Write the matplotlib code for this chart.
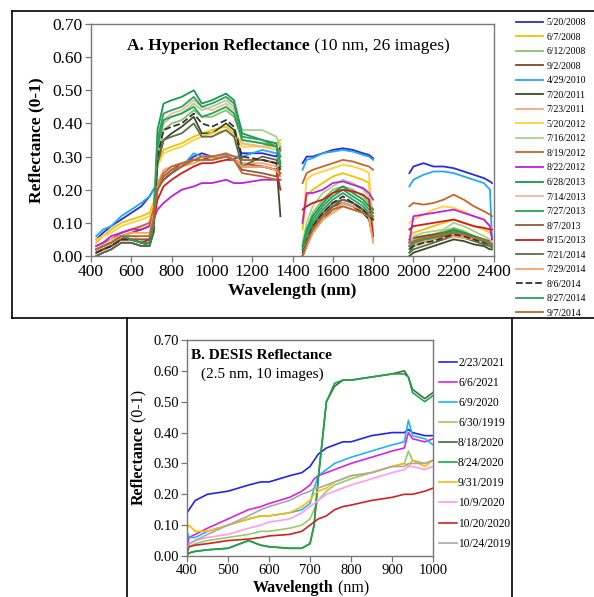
import matplotlib
matplotlib.use("Agg")
import matplotlib.pyplot as plt
from matplotlib.lines import Line2D

plt.rcParams['font.family'] = ['Liberation Serif', 'DejaVu Serif']

# ---------- A. Hyperion (3 spectral segments) ----------
hyp_dates = ['5/20/2008', '6/7/2008', '6/12/2008', '9/2/2008', '4/29/2010',
             '7/20/2011', '7/23/2011', '5/20/2012', '7/16/2012', '8/19/2012',
             '8/22/2012', '6/28/2013', '7/14/2013', '7/27/2013', '8/7/2013',
             '8/15/2013', '7/21/2014', '7/29/2014', '8/6/2014', '8/27/2014',
             '9/7/2014']

wl_vnir = [426, 460, 500, 550, 600, 650, 690, 710, 730, 760, 800, 850, 910,
           950, 1000, 1070, 1110, 1150, 1250, 1320, 1340]
wl_swir1 = [1450, 1470, 1500, 1550, 1600, 1650, 1700, 1750, 1780, 1800]
wl_swir2 = [1980, 2000, 2050, 2100, 2150, 2200, 2250, 2300, 2350, 2380, 2390]

refl_vnir = [
    [0.05, 0.07, 0.09, 0.11, 0.13, 0.15, 0.18, 0.20, 0.22, 0.23, 0.25, 0.27, 0.30, 0.31, 0.30, 0.30, 0.29, 0.31, 0.31, 0.30, 0.33],
    [0.04, 0.06, 0.08, 0.10, 0.11, 0.12, 0.13, 0.16, 0.28, 0.32, 0.33, 0.34, 0.36, 0.37, 0.38, 0.39, 0.37, 0.34, 0.33, 0.34, 0.35],
    [0.02, 0.03, 0.04, 0.06, 0.05, 0.04, 0.04, 0.08, 0.30, 0.38, 0.40, 0.41, 0.44, 0.42, 0.42, 0.44, 0.42, 0.35, 0.34, 0.33, 0.30],
    [0.02, 0.03, 0.04, 0.06, 0.07, 0.08, 0.09, 0.12, 0.20, 0.24, 0.26, 0.28, 0.29, 0.29, 0.30, 0.30, 0.29, 0.28, 0.27, 0.26, 0.25],
    [0.06, 0.08, 0.09, 0.12, 0.14, 0.16, 0.18, 0.20, 0.22, 0.24, 0.26, 0.27, 0.31, 0.30, 0.30, 0.305, 0.30, 0.30, 0.32, 0.31, 0.32],
    [0.00, 0.01, 0.02, 0.04, 0.04, 0.03, 0.03, 0.07, 0.28, 0.35, 0.37, 0.39, 0.42, 0.37, 0.37, 0.40, 0.38, 0.29, 0.29, 0.28, 0.12],
    [0.03, 0.04, 0.05, 0.07, 0.08, 0.09, 0.10, 0.13, 0.22, 0.26, 0.27, 0.28, 0.29, 0.30, 0.30, 0.30, 0.29, 0.28, 0.28, 0.27, 0.26],
    [0.05, 0.06, 0.07, 0.09, 0.10, 0.11, 0.12, 0.15, 0.27, 0.31, 0.32, 0.33, 0.35, 0.36, 0.37, 0.38, 0.36, 0.33, 0.33, 0.33, 0.34],
    [0.02, 0.03, 0.04, 0.06, 0.05, 0.05, 0.05, 0.09, 0.32, 0.40, 0.42, 0.43, 0.46, 0.44, 0.45, 0.47, 0.45, 0.38, 0.38, 0.36, 0.33],
    [0.03, 0.04, 0.05, 0.07, 0.08, 0.09, 0.10, 0.14, 0.21, 0.25, 0.27, 0.28, 0.29, 0.30, 0.30, 0.31, 0.30, 0.29, 0.29, 0.28, 0.32],
    [0.03, 0.04, 0.06, 0.07, 0.08, 0.08, 0.09, 0.11, 0.14, 0.16, 0.18, 0.20, 0.21, 0.22, 0.22, 0.23, 0.22, 0.22, 0.23, 0.23, 0.23],
    [0.02, 0.03, 0.04, 0.06, 0.05, 0.04, 0.04, 0.10, 0.38, 0.46, 0.47, 0.48, 0.50, 0.46, 0.47, 0.49, 0.47, 0.37, 0.35, 0.34, 0.28],
    [0.02, 0.03, 0.05, 0.06, 0.06, 0.05, 0.05, 0.09, 0.33, 0.41, 0.43, 0.44, 0.47, 0.45, 0.44, 0.46, 0.44, 0.34, 0.33, 0.32, 0.31],
    [0.01, 0.02, 0.03, 0.05, 0.05, 0.04, 0.03, 0.08, 0.33, 0.41, 0.42, 0.43, 0.45, 0.42, 0.43, 0.45, 0.43, 0.35, 0.34, 0.33, 0.30],
    [0.01, 0.02, 0.03, 0.05, 0.05, 0.05, 0.05, 0.10, 0.20, 0.23, 0.25, 0.27, 0.29, 0.29, 0.29, 0.30, 0.29, 0.26, 0.25, 0.24, 0.27],
    [0.01, 0.02, 0.03, 0.05, 0.05, 0.04, 0.05, 0.10, 0.17, 0.21, 0.23, 0.25, 0.27, 0.28, 0.28, 0.29, 0.29, 0.27, 0.27, 0.26, 0.20],
    [0.00, 0.01, 0.02, 0.04, 0.04, 0.03, 0.03, 0.07, 0.28, 0.35, 0.36, 0.37, 0.40, 0.36, 0.36, 0.38, 0.36, 0.27, 0.30, 0.29, 0.27],
    [0.02, 0.03, 0.04, 0.06, 0.07, 0.07, 0.07, 0.12, 0.21, 0.24, 0.26, 0.27, 0.28, 0.29, 0.29, 0.30, 0.29, 0.27, 0.27, 0.26, 0.24],
    [0.01, 0.02, 0.03, 0.05, 0.05, 0.04, 0.04, 0.08, 0.30, 0.38, 0.39, 0.40, 0.43, 0.40, 0.39, 0.41, 0.39, 0.30, 0.29, 0.28, 0.26],
    [0.02, 0.03, 0.04, 0.06, 0.05, 0.04, 0.04, 0.09, 0.35, 0.43, 0.44, 0.45, 0.48, 0.45, 0.46, 0.48, 0.46, 0.36, 0.35, 0.33, 0.27],
    [0.02, 0.03, 0.04, 0.06, 0.06, 0.06, 0.06, 0.11, 0.20, 0.24, 0.26, 0.27, 0.29, 0.29, 0.29, 0.30, 0.29, 0.25, 0.24, 0.23, 0.25],
]

refl_swir1 = [
    [0.28, 0.30, 0.30, 0.31, 0.32, 0.325, 0.32, 0.31, 0.305, 0.295],
    [0.08, 0.18, 0.20, 0.22, 0.24, 0.25, 0.24, 0.23, 0.22, 0.06],
    [0.03, 0.08, 0.13, 0.17, 0.20, 0.21, 0.20, 0.18, 0.16, 0.13],
    [0.00, 0.03, 0.07, 0.11, 0.14, 0.16, 0.15, 0.13, 0.12, 0.11],
    [0.26, 0.29, 0.295, 0.31, 0.315, 0.32, 0.315, 0.305, 0.30, 0.29],
    [0.00, 0.04, 0.08, 0.12, 0.15, 0.16, 0.15, 0.13, 0.11, 0.05],
    [0.01, 0.04, 0.08, 0.12, 0.14, 0.16, 0.15, 0.14, 0.13, 0.12],
    [0.10, 0.23, 0.245, 0.255, 0.265, 0.275, 0.27, 0.26, 0.25, 0.05],
    [0.04, 0.10, 0.15, 0.19, 0.21, 0.23, 0.22, 0.20, 0.18, 0.14],
    [0.22, 0.25, 0.26, 0.27, 0.28, 0.29, 0.285, 0.275, 0.27, 0.26],
    [0.10, 0.19, 0.19, 0.20, 0.22, 0.225, 0.215, 0.205, 0.19, 0.17],
    [0.03, 0.08, 0.12, 0.16, 0.19, 0.21, 0.19, 0.17, 0.15, 0.14],
    [0.01, 0.05, 0.10, 0.13, 0.16, 0.17, 0.16, 0.14, 0.12, 0.05],
    [0.02, 0.07, 0.11, 0.15, 0.18, 0.20, 0.18, 0.16, 0.14, 0.13],
    [0.00, 0.03, 0.08, 0.12, 0.15, 0.17, 0.16, 0.14, 0.12, 0.11],
    [0.14, 0.15, 0.16, 0.17, 0.19, 0.20, 0.195, 0.185, 0.17, 0.06],
    [0.00, 0.04, 0.09, 0.13, 0.16, 0.17, 0.16, 0.14, 0.12, 0.11],
    [0.00, 0.03, 0.07, 0.11, 0.13, 0.15, 0.14, 0.13, 0.12, 0.04],
    [0.01, 0.05, 0.09, 0.13, 0.16, 0.18, 0.16, 0.14, 0.12, 0.11],
    [0.02, 0.06, 0.10, 0.14, 0.17, 0.19, 0.17, 0.15, 0.13, 0.12],
    [0.00, 0.04, 0.08, 0.12, 0.14, 0.15, 0.14, 0.13, 0.12, 0.12],
]

refl_swir2 = [
    [0.25, 0.27, 0.28, 0.27, 0.27, 0.265, 0.255, 0.245, 0.235, 0.225, 0.22],
    [0.06, 0.07, 0.08, 0.09, 0.10, 0.11, 0.10, 0.09, 0.08, 0.07, 0.06],
    [0.03, 0.05, 0.06, 0.065, 0.075, 0.085, 0.075, 0.06, 0.05, 0.04, 0.03],
    [0.05, 0.055, 0.06, 0.065, 0.07, 0.075, 0.07, 0.06, 0.05, 0.045, 0.04],
    [0.21, 0.23, 0.245, 0.255, 0.255, 0.25, 0.24, 0.23, 0.22, 0.20, 0.05],
    [0.00, 0.01, 0.02, 0.03, 0.04, 0.05, 0.045, 0.035, 0.03, 0.02, 0.02],
    [0.03, 0.035, 0.045, 0.05, 0.055, 0.06, 0.055, 0.05, 0.04, 0.035, 0.03],
    [0.10, 0.11, 0.125, 0.14, 0.15, 0.145, 0.135, 0.12, 0.11, 0.09, 0.08],
    [0.04, 0.06, 0.07, 0.075, 0.08, 0.10, 0.09, 0.075, 0.06, 0.05, 0.04],
    [0.15, 0.16, 0.155, 0.16, 0.17, 0.185, 0.17, 0.15, 0.135, 0.125, 0.12],
    [0.04, 0.12, 0.125, 0.13, 0.135, 0.14, 0.13, 0.12, 0.11, 0.09, 0.05],
    [0.02, 0.04, 0.05, 0.06, 0.07, 0.08, 0.07, 0.06, 0.05, 0.04, 0.03],
    [0.04, 0.045, 0.05, 0.055, 0.06, 0.065, 0.06, 0.05, 0.045, 0.04, 0.035],
    [0.01, 0.03, 0.04, 0.05, 0.06, 0.07, 0.065, 0.055, 0.045, 0.035, 0.03],
    [0.03, 0.04, 0.05, 0.055, 0.06, 0.07, 0.065, 0.055, 0.045, 0.04, 0.035],
    [0.08, 0.09, 0.095, 0.10, 0.105, 0.11, 0.10, 0.09, 0.085, 0.08, 0.08],
    [0.01, 0.02, 0.03, 0.04, 0.05, 0.06, 0.055, 0.045, 0.035, 0.03, 0.025],
    [0.02, 0.03, 0.04, 0.05, 0.055, 0.06, 0.055, 0.05, 0.04, 0.035, 0.03],
    [0.02, 0.03, 0.04, 0.045, 0.055, 0.065, 0.06, 0.05, 0.04, 0.035, 0.03],
    [0.03, 0.04, 0.05, 0.055, 0.065, 0.075, 0.065, 0.055, 0.045, 0.035, 0.03],
    [0.04, 0.045, 0.055, 0.06, 0.065, 0.07, 0.065, 0.055, 0.05, 0.04, 0.035],
]

hyp_colors = ['#2b2bdc', '#f2c200', '#8cbf6a', '#7a4a26', '#25a9e8',
              '#3b4a2c', '#f2a77e', '#ffd23c', '#a9d18e', '#c8652a',
              '#c21fdc', '#19994a', '#e9bc9c', '#23a455', '#8d5a3b',
              '#cf1d1d', '#5d6b4a', '#f4a262', '#333333', '#2e9e60',
              '#b8672c']

# ---------- B. DESIS ----------
desis_dates = ['2/23/2021', '6/6/2021', '6/9/2020', '6/30/1919', '8/18/2020',
               '8/24/2020', '9/31/2019', '10/9/2020', '10/20/2020', '10/24/2019']
wl_desis = [400, 405, 420, 450, 500, 550, 580, 600, 650, 680, 700, 710, 720,
            740, 760, 780, 800, 850, 900, 930, 940, 950, 980, 1000]
refl_desis = [
    [0.14, 0.15, 0.18, 0.20, 0.21, 0.23, 0.24, 0.24, 0.26, 0.27, 0.29, 0.31, 0.33, 0.35, 0.36, 0.37, 0.37, 0.39, 0.40, 0.40, 0.41, 0.40, 0.39, 0.39],
    [0.03, 0.06, 0.07, 0.09, 0.12, 0.15, 0.16, 0.17, 0.19, 0.21, 0.23, 0.25, 0.26, 0.27, 0.28, 0.29, 0.30, 0.32, 0.34, 0.35, 0.40, 0.38, 0.37, 0.38],
    [0.08, 0.06, 0.06, 0.08, 0.10, 0.12, 0.13, 0.13, 0.14, 0.15, 0.17, 0.22, 0.26, 0.28, 0.30, 0.31, 0.32, 0.34, 0.36, 0.37, 0.44, 0.39, 0.38, 0.36],
    [0.02, 0.03, 0.04, 0.05, 0.06, 0.07, 0.08, 0.08, 0.09, 0.10, 0.12, 0.15, 0.18, 0.21, 0.23, 0.24, 0.25, 0.27, 0.29, 0.30, 0.34, 0.31, 0.30, 0.31],
    [0.01, 0.01, 0.015, 0.02, 0.025, 0.05, 0.035, 0.03, 0.025, 0.025, 0.04, 0.10, 0.25, 0.50, 0.55, 0.57, 0.57, 0.58, 0.59, 0.60, 0.58, 0.54, 0.51, 0.53],
    [0.00, 0.01, 0.015, 0.02, 0.025, 0.05, 0.035, 0.03, 0.025, 0.025, 0.04, 0.10, 0.25, 0.50, 0.56, 0.57, 0.57, 0.58, 0.59, 0.59, 0.58, 0.53, 0.50, 0.52],
    [0.09, 0.10, 0.08, 0.08, 0.10, 0.12, 0.13, 0.13, 0.14, 0.16, 0.18, 0.20, 0.21, 0.22, 0.24, 0.25, 0.26, 0.27, 0.29, 0.30, 0.29, 0.31, 0.29, 0.31],
    [0.03, 0.04, 0.05, 0.06, 0.07, 0.09, 0.10, 0.11, 0.12, 0.14, 0.16, 0.17, 0.18, 0.20, 0.21, 0.22, 0.23, 0.25, 0.27, 0.28, 0.29, 0.29, 0.28, 0.29],
    [0.01, 0.03, 0.035, 0.04, 0.05, 0.055, 0.06, 0.065, 0.07, 0.08, 0.10, 0.11, 0.12, 0.13, 0.15, 0.16, 0.165, 0.18, 0.19, 0.20, 0.20, 0.20, 0.21, 0.22],
    [0.02, 0.04, 0.05, 0.07, 0.10, 0.13, 0.15, 0.16, 0.18, 0.20, 0.21, 0.22, 0.22, 0.23, 0.24, 0.25, 0.26, 0.27, 0.29, 0.29, 0.30, 0.30, 0.30, 0.31],
]
desis_colors = ['#2323f0', '#dd22dd', '#1fb6ec', '#96cc66', '#3d6b3a',
                '#1ea648', '#ffbb00', '#ff9cf0', '#cc2222', '#a9a9a9']

fig = plt.figure(figsize=(5.94, 5.97), dpi=100)
W, H = 594.0, 597.0


def px_axes(l, t, r, b):
    return fig.add_axes([l / W, 1 - b / H, (r - l) / W, (b - t) / H])


def style_axes(ax, fs):
    for s in ax.spines.values():
        s.set_color('#777777')
        s.set_linewidth(1.0)
    ax.tick_params(direction='out', length=4, width=0.9, color='#777777',
                   labelsize=fs, pad=2)


# panel A
axa = px_axes(91, 24, 494, 256)
for i, lab in enumerate(hyp_dates):
    ls = '--' if lab == '8/6/2014' else '-'
    for wl, refl in ((wl_vnir, refl_vnir), (wl_swir1, refl_swir1), (wl_swir2, refl_swir2)):
        axa.plot(wl, refl[i], color=hyp_colors[i], lw=1.3, ls=ls,
                 label=lab if wl is wl_vnir else None)
axa.set_xlim(400, 2400)
axa.set_ylim(0, 0.7)
axa.set_xticks(range(400, 2401, 200))
axa.set_yticks([i / 10 for i in range(8)])
axa.set_yticklabels(['%.2f' % (i / 10) for i in range(8)])
style_axes(axa, 12.5)
axa.set_xlabel('Wavelength (nm)', fontsize=12.5, fontweight='bold', labelpad=2)
axa.set_ylabel('Reflectance (0-1)', fontsize=12.5, fontweight='bold', labelpad=6)
ta = axa.text(0.09, 0.905, 'A. Hyperion Reflectance', transform=axa.transAxes,
              fontsize=12.5, fontweight='bold', va='center', ha='left')
axa.annotate(' (10 nm, 26 images)', xy=(1, 0.5), xycoords=ta, fontsize=12.5,
             va='center', ha='left')
axa.legend(loc='upper left', bbox_to_anchor=(516 / W, 1 - 18 / H),
           bbox_transform=fig.transFigure, frameon=False, fontsize=7,
           handlelength=2.8, handletextpad=0.35, labelspacing=0.57,
           borderpad=0, borderaxespad=0)

# panel B
axb = px_axes(187, 340, 433, 556)
for i, lab in enumerate(desis_dates):
    axb.plot(wl_desis, refl_desis[i], color=desis_colors[i], lw=1.2, label=lab)
axb.set_xlim(400, 1000)
axb.set_ylim(0, 0.7)
axb.set_xticks(range(400, 1001, 100))
axb.set_yticks([i / 10 for i in range(8)])
axb.set_yticklabels(['%.2f' % (i / 10) for i in range(8)])
style_axes(axb, 10.5)
tb = axb.text(0.015, 0.93, 'B. DESIS Reflectance', transform=axb.transAxes,
              fontsize=11, fontweight='bold', va='center', ha='left')
axb.text(0.055, 0.84, '(2.5 nm, 10 images)', transform=axb.transAxes,
         fontsize=11, va='center', ha='left')
xl = fig.text(253 / W, 1 - 588 / H, 'Wavelength', fontsize=11.5,
              fontweight='bold', va='center', ha='left')
axb.annotate(' (nm)', xy=(1, 0.5), xycoords=xl, fontsize=11.5,
             va='center', ha='left', annotation_clip=False)
yl = fig.text(139 / W, 1 - 505 / H, 'Reflectance', fontsize=11.5,
              fontweight='bold', va='bottom', ha='center', rotation=90)
axb.annotate(' (0-1)', xy=(0.5, 1), xycoords=yl, fontsize=11.5,
             va='bottom', ha='center', rotation=90, annotation_clip=False)
axb.legend(loc='upper left', bbox_to_anchor=(439 / W, 1 - 357 / H),
           bbox_transform=fig.transFigure, frameon=False, fontsize=8.3,
           handlelength=1.6, handletextpad=0.05, labelspacing=0.7,
           borderpad=0, borderaxespad=0)

# panel frames
frame = dict(color='black', lw=1.2, transform=fig.transFigure)
for x0, y0, x1, y1 in [(12, 11, 594, 11), (12, 318, 594, 318), (12, 11, 12, 318),
                       (127, 318, 127, 597), (512, 318, 512, 597)]:
    fig.add_artist(Line2D([x0 / W, x1 / W], [1 - y0 / H, 1 - y1 / H], **frame))

fig.savefig('out.png', dpi=100)
